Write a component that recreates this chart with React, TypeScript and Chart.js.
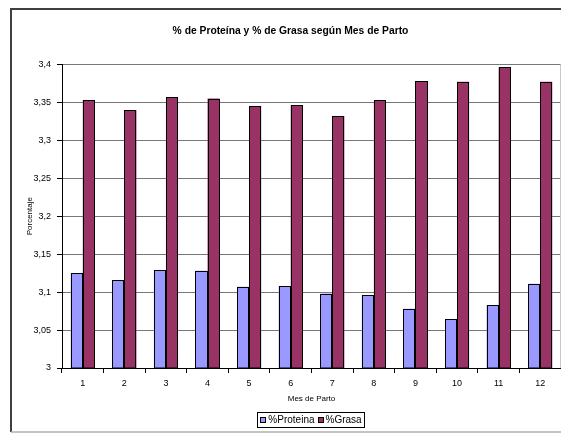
import React, { useEffect, useRef } from "react";
import { Chart, registerables } from "chart.js";

Chart.register(...registerables);

const months = ["1", "2", "3", "4", "5", "6", "7", "8", "9", "10", "11", "12"];
const proteina = [3.125, 3.116, 3.129, 3.128, 3.107, 3.108, 3.098, 3.096, 3.078, 3.064, 3.083, 3.111];
const grasa = [3.353, 3.34, 3.357, 3.355, 3.345, 3.346, 3.332, 3.353, 3.378, 3.377, 3.396, 3.377];
const seriesLabels = ["%Proteina", "%Grasa"];
const titleText = "% de Proteína y % de Grasa según Mes de Parto";
const xTitle = "Mes de Parto";
const yTitle = "Porcentaje";

const FONT = "'Liberation Sans', Arial, sans-serif";

const barOutlinePlugin = {
  id: "barOutline",
  afterDatasetsDraw(chart: any) {
    const ctx = chart.ctx;
    const ca = chart.chartArea;
    ctx.save();
    chart.data.datasets.forEach((d: any, i: number) => {
      const meta = chart.getDatasetMeta(i);
      meta.data.forEach((el: any) => {
        const p = el.getProps(["x", "y", "base", "width"], true);
        const l = Math.round(p.x - p.width / 2);
        const r = Math.round(p.x + p.width / 2);
        const t = Math.round(Math.max(p.y, ca.top));
        const b = Math.round(Math.min(p.base, ca.bottom));
        ctx.fillStyle = d.backgroundColor;
        ctx.fillRect(l, t, r - l, b - t);
        ctx.strokeStyle = "#000";
        ctx.lineWidth = 1;
        ctx.strokeRect(l + 0.5, t + 0.5, r - l - 1, b - t - 0.5);
      });
    });
    ctx.restore();
  },
};

const framePlugin = {
  id: "frameAndLegend",
  beforeDraw(chart: any) {
    const ctx = chart.ctx;
    ctx.save();
    ctx.fillStyle = "#fff";
    ctx.fillRect(0, 0, chart.width, chart.height);
    ctx.restore();
  },
  afterDraw(chart: any) {
    const ctx = chart.ctx;
    const ca = chart.chartArea;
    ctx.save();
    // right edge of plot area
    ctx.strokeStyle = "#c8c8c8";
    ctx.lineWidth = 1;
    ctx.beginPath();
    ctx.moveTo(560.5, ca.top);
    ctx.lineTo(560.5, ca.bottom);
    ctx.stroke();
    // outer frame
    ctx.strokeStyle = "#404040";
    ctx.lineWidth = 2;
    ctx.beginPath();
    ctx.moveTo(chart.width + 5, 9);
    ctx.lineTo(11, 9);
    ctx.lineTo(11, 432);
    ctx.stroke();
    ctx.strokeStyle = "#b0b0b0";
    ctx.lineWidth = 1.5;
    ctx.beginPath();
    ctx.moveTo(11, 432);
    ctx.lineTo(chart.width + 5, 432);
    ctx.stroke();

    // legend
    const ds = chart.data.datasets;
    ctx.font = "10px " + FONT;
    const box = 6;
    const gap = 2;
    const itemGap = 3;
    let total = 0;
    const widths = ds.map((d: any) => ctx.measureText(d.label).width);
    ds.forEach((_d: any, i: number) => {
      total += box + gap + widths[i];
      if (i < ds.length - 1) total += itemGap;
    });
    const cx = 311;
    const cy = 420;
    const padX = 3;
    const lx = Math.round(cx - total / 2 - padX) + 0.5;
    const ly = 412.5;
    ctx.strokeStyle = "#000";
    ctx.lineWidth = 1;
    ctx.strokeRect(lx, ly, Math.round(total + padX * 2), 15);
    let x = cx - total / 2;
    ctx.textBaseline = "middle";
    ctx.textAlign = "left";
    ds.forEach((d: any, i: number) => {
      ctx.fillStyle = d.backgroundColor;
      ctx.fillRect(Math.round(x), cy - 3, box, box);
      ctx.strokeStyle = "#000";
      ctx.strokeRect(Math.round(x) + 0.5, cy - 2.5, box - 1, box - 1);
      x += box + gap;
      ctx.fillStyle = "#000";
      ctx.fillText(d.label, x, cy + 0.5);
      x += widths[i] + itemGap;
    });
    ctx.restore();
  },
};

export default function App() {
  const ref = useRef<HTMLCanvasElement | null>(null);
  useEffect(() => {
    if (!ref.current) return;
    const chart = new Chart(ref.current, {
      type: "bar",
      data: {
        labels: months,
        datasets: [
          {
            label: seriesLabels[0],
            data: proteina,
            backgroundColor: "#9999FF",
            borderWidth: 0,
            categoryPercentage: 0.58,
            barPercentage: 1,
          },
          {
            label: seriesLabels[1],
            data: grasa,
            backgroundColor: "#993366",
            borderWidth: 0,
            categoryPercentage: 0.58,
            barPercentage: 1,
          },
        ],
      },
      options: {
        responsive: false,
        animation: false,
        devicePixelRatio: 1,
        layout: { padding: { left: 20, right: 0, top: 0, bottom: 0 } },
        plugins: {
          legend: { display: false },
          tooltip: { enabled: false },
          title: {
            display: true,
            text: titleText,
            color: "#000",
            font: { family: FONT, size: 10.3, weight: "bold" },
            padding: { top: 25, bottom: 27 },
          },
        },
        scales: {
          x: {
            grid: {
              drawOnChartArea: false,
              drawTicks: true,
              tickLength: 5,
              tickColor: "#000",
              offset: true,
            },
            border: { display: true, color: "#000", width: 1 },
            ticks: {
              color: "#000",
              font: { family: FONT, size: 9 },
              padding: 5,
              maxRotation: 0,
            },
            title: {
              display: true,
              text: xTitle,
              color: "#000",
              font: { family: FONT, size: 8 },
              padding: { top: 2, bottom: 29 },
            },
            afterFit: (s: any) => {
              s.height = 65;
            },
          },
          y: {
            min: 3,
            max: 3.4,
            grid: {
              color: "#777",
              lineWidth: 1,
              drawTicks: true,
              tickLength: 5,
              tickColor: "#000",
            },
            border: { display: true, color: "#000", width: 1 },
            ticks: {
              stepSize: 0.05,
              color: "#000",
              font: { family: FONT, size: 9 },
              padding: 6,
              callback: (v: any) => Number(Number(v).toFixed(2)).toString().replace(".", ","),
            },
            title: {
              display: true,
              text: yTitle,
              color: "#000",
              font: { family: FONT, size: 8 },
              padding: { top: 5, bottom: 2 },
            },
            afterFit: (s: any) => {
              s.width = 42;
            },
          },
        },
      },
      plugins: [barOutlinePlugin, framePlugin],
    });
    return () => chart.destroy();
  }, []);
  return (
    <div style={{ position: "fixed", left: 0, top: 0, width: 561, height: 433, background: "#fff" }}>
      <canvas ref={ref} width={561} height={433} style={{ display: "block" }} />
    </div>
  );
}
